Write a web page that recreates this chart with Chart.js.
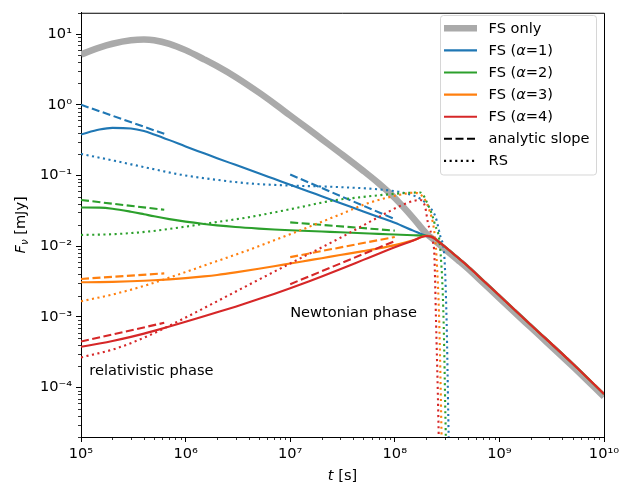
<!DOCTYPE html>
<html>
<head>
<meta charset="utf-8">
<script src="https://cdn.jsdelivr.net/npm/chart.js@4.4.1/dist/chart.umd.min.js"></script>
<style>
  html, body { margin: 0; padding: 0; background: #fff; }
  #wrap { width: 632px; height: 483px; }
</style>
</head>
<body>
<div id="wrap"><canvas id="lc" width="632" height="483"></canvas></div>
<script>
// light curves: t in s, flux in mJy
const tFS = [1e5, 1.5e5, 2e5, 3e5, 4e5, 5e5, 7e5, 1e6, 1.5e6, 2e6, 3e6, 5e6, 7e6, 1e7, 1.5e7, 2e7, 3e7, 5e7, 7e7, 1e8, 1.5e8, 2e8,
             2.3e8, 2.6e8, 3e8, 4e8, 5e8, 7e8, 1e9, 2e9, 5e9, 1e10];
const fsOnly = [5.14, 6.44, 7.29, 8.15, 8.36, 8.18, 7.28, 5.92, 4.39, 3.51, 2.47, 1.493, 1.045, 0.705, 0.451, 0.327, 0.208, 0.1161, 0.0774, 0.0479, 0.0250, 0.01514,
                0.01274, 0.01091, 0.00912, 0.00638, 0.00481, 0.00302, 0.00184, 0.000708, 0.000201, 0.0000741];
const fsA1 = [0.380, 0.446, 0.471, 0.461, 0.424, 0.380, 0.316, 0.257, 0.2056, 0.1754, 0.1413, 0.1076, 0.0897, 0.0740, 0.0594, 0.0509, 0.0409, 0.0310, 0.0259, 0.0214, 0.0166, 0.01396,
              0.0134, 0.0117, 0.0099, 0.0069, 0.0052, 0.00327, 0.0020, 0.00077, 0.000219, 0.000081];
const fsA2 = [0.0352, 0.03505, 0.03386, 0.03072, 0.02826, 0.02642, 0.02413, 0.02223, 0.02059, 0.01966, 0.01865, 0.01772, 0.01722, 0.01677, 0.01637, 0.01609, 0.0157, 0.01523, 0.01493, 0.01461, 0.01426, 0.01403,
              0.0134, 0.0117, 0.0099, 0.0069, 0.0052, 0.00327, 0.0020, 0.00077, 0.000219, 0.000081];
const fsA3 = [0.003083, 0.003105, 0.00313, 0.003184, 0.003238, 0.00329, 0.003392, 0.00353, 0.003736, 0.003918, 0.004258, 0.00479, 0.0052, 0.005689, 0.006295, 0.006764, 0.007484, 0.008506, 0.009297, 0.010347, 0.012075, 0.013964,
              0.0134, 0.0117, 0.0099, 0.0069, 0.0052, 0.00327, 0.0020, 0.00077, 0.000219, 0.000081];
const fsA4 = [0.000377, 0.0004194, 0.0004557, 0.000521, 0.0005796, 0.0006339, 0.0007299, 0.000851, 0.001017, 0.001158, 0.001395, 0.001783, 0.00211, 0.002541, 0.003166, 0.003719, 0.004708, 0.006397, 0.007826, 0.009627, 0.012029, 0.013891,
              0.0134, 0.0117, 0.0099, 0.0069, 0.0052, 0.00327, 0.0020, 0.00077, 0.000219, 0.000081];

// analytic slopes (relativistic / Newtonian)
const tEarly = [1e5, 6.25e5];
const tLate = [1e7, 1e8];
const slopeA1Early = [1.0, 0.388];
const slopeA1Late = [0.103, 0.0241];
const slopeA2Early = [0.045, 0.0327];
const slopeA2Late = [0.0217, 0.0166];
const slopeA3Early = [0.00344, 0.00412];
const slopeA3Late = [0.0070, 0.0135];
const slopeA4Early = [0.000448, 0.000824];
const slopeA4Late = [0.0029, 0.0118];

// reverse shock
const tRS1 = [1e5, 2.1e5, 4.4e5, 9e5, 1.9e6, 4.2e6, 1e7, 3e7, 7.2e7, 1.2e8, 1.75e8, 2.1e8, 2.45e8, 2.75e8, 2.97e8, 3.13e8, 3.25e8, 3.4e8];
const rsA1 = [0.2016, 0.161, 0.1273, 0.1026, 0.0874, 0.0768, 0.0720, 0.0684, 0.0633, 0.0570, 0.0470, 0.037, 0.026, 0.013, 0.0074, 0.00084, 0.000036, 0.000001];
const tRS2 = [1e5, 2.1e5, 4.4e5, 9e5, 1.9e6, 3.9e6, 1e7, 2.7e7, 4.3e7, 9e7, 1.4e8, 1.75e8, 2.1e8, 2.4e8, 2.75e8, 2.93e8, 3.05e8, 3.2e8];
const rsA2 = [0.0144, 0.0148, 0.0161, 0.0185, 0.0217, 0.0255, 0.0333, 0.0447, 0.0485, 0.0543, 0.0570, 0.0573, 0.037, 0.021, 0.0074, 0.00084, 0.000036, 0.000001];
const tRS3 = [1e5, 2.1e5, 4.4e5, 9e5, 1.9e6, 3.9e6, 1e7, 3e7, 5.4e7, 1.12e8, 1.5e8, 1.85e8, 2.1e8, 2.4e8, 2.5e8, 2.66e8, 2.78e8, 2.9e8];
const rsA3 = [0.00166, 0.00211, 0.00286, 0.00408, 0.0060, 0.0087, 0.01476, 0.0281, 0.040, 0.0534, 0.057, 0.050, 0.035, 0.015, 0.0074, 0.00084, 0.000036, 0.000001];
const tRS4 = [1e5, 2.1e5, 4.4e5, 9e5, 1.9e6, 4.2e6, 1e7, 3e7, 7.2e7, 1.2e8, 1.75e8, 1.95e8, 2.07e8, 2.32e8, 2.39e8, 2.48e8, 2.61e8, 2.72e8];
const rsA4 = [0.000267, 0.000352, 0.00054, 0.000904, 0.001596, 0.002938, 0.005689, 0.01309, 0.02636, 0.03864, 0.045, 0.036, 0.0217, 0.0114, 0.0074, 0.00084, 0.000036, 0.000001];

const xTicks = [1e5, 1e6, 1e7, 1e8, 1e9, 1e10];
const yTicks = [1e-4, 1e-3, 1e-2, 1e-1, 1e0, 1e1];
const legendLabels = ['FS only', 'FS (α=1)', 'FS (α=2)', 'FS (α=3)', 'FS (α=4)', 'analytic slope', 'RS'];

const GRAY = '#aaaaaa';
const COLORS = ['#1f77b4', '#2ca02c', '#ff7f0e', '#d62728'];
const FONT = 'DejaVu Sans';
const FS = 14.6;
const LW = 2.1;
const DASH = [8, 3.5];
const DOT = [2.1, 3.5];

function pts(ts, vs) {
    return ts.map((t, i) => ({ x: t, y: vs[i] }));
}

function series(ts, vs, color, width, dash, smooth) {
    return {
        data: pts(ts, vs),
        borderColor: color,
        borderWidth: width,
        borderDash: dash,
        pointRadius: 0,
        fill: false,
        clip: 0,
        tension: 0,
        cubicInterpolationMode: smooth ? 'monotone' : 'default'
    };
}

const fsSets = [fsA1, fsA2, fsA3, fsA4];
const earlySets = [slopeA1Early, slopeA2Early, slopeA3Early, slopeA4Early];
const lateSets = [slopeA1Late, slopeA2Late, slopeA3Late, slopeA4Late];
const rsT = [tRS1, tRS2, tRS3, tRS4];
const rsSets = [rsA1, rsA2, rsA3, rsA4];

const datasets = [series(tFS, fsOnly, GRAY, 6.5, [], true)];
for (let i = 0; i < 4; i++) {
    datasets.push(series(tFS, fsSets[i], COLORS[i], LW, [], true));
    datasets.push(series(tEarly, earlySets[i], COLORS[i], LW, DASH, false));
    datasets.push(series(tLate, lateSets[i], COLORS[i], LW, DASH, false));
    datasets.push(series(rsT[i], rsSets[i], COLORS[i], LW, DOT, true));
}
// later datasets on top, like matplotlib
datasets.forEach((d, i) => { d.order = datasets.length - i; });

const SUP = { '0': '⁰', '1': '¹', '2': '²', '3': '³', '4': '⁴', '5': '⁵', '6': '⁶', '7': '⁷', '8': '⁸', '9': '⁹', '-': '⁻' };
function pow10Label(v) {
    const e = Math.round(Math.log10(v));
    return '10' + String(e).split('').map(c => SUP[c]).join('');
}

function font(size, italic) {
    return (italic ? 'italic ' : '') + size + 'px "' + FONT + '"';
}

// draw text made of runs (some italic / subscript)
function drawRuns(ctx, runs, x, y, align) {
    let total = 0;
    runs.forEach(r => {
        ctx.font = font(r.size || FS, r.italic);
        r.w = ctx.measureText(r.text).width;
        total += r.w;
    });
    let cx = align === 'center' ? x - total / 2 : x;
    runs.forEach(r => {
        ctx.font = font(r.size || FS, r.italic);
        ctx.fillText(r.text, cx, y + (r.dy || 0));
        cx += r.w;
    });
}

function alphaRuns(label) {
    const parts = label.split('α');
    if (parts.length === 1) return [{ text: label }];
    return [{ text: parts[0] }, { text: 'α', italic: true }, { text: parts[1] }];
}

const extras = {
    id: 'extras',
    afterDraw(chart) {
        const ctx = chart.ctx;
        const a = chart.chartArea;
        const xs = chart.scales.x, ys = chart.scales.y;
        ctx.save();

        // top and right spines
        ctx.strokeStyle = '#000';
        ctx.lineWidth = 1;
        ctx.beginPath();
        ctx.moveTo(a.left, a.top + 0.5);
        ctx.lineTo(a.right + 0.5, a.top + 0.5);
        ctx.lineTo(a.right + 0.5, a.bottom);
        ctx.stroke();

        // minor ticks
        ctx.lineWidth = 0.8;
        ctx.beginPath();
        for (let d = 5; d < 10; d++) {
            for (let k = 2; k < 10; k++) {
                const px = Math.round(xs.getPixelForValue(k * Math.pow(10, d))) + 0.5;
                ctx.moveTo(px, a.bottom);
                ctx.lineTo(px, a.bottom + 3);
            }
        }
        for (let d = -5; d < 2; d++) {
            for (let k = 2; k < 10; k++) {
                const v = k * Math.pow(10, d);
                if (v < ys.min || v > ys.max) continue;
                const py = Math.round(ys.getPixelForValue(v)) + 0.5;
                ctx.moveTo(a.left - 3, py);
                ctx.lineTo(a.left, py);
            }
        }
        ctx.stroke();

        // annotations
        ctx.fillStyle = '#000';
        ctx.textBaseline = 'alphabetic';
        ctx.textAlign = 'left';
        ctx.font = font(FS, false);
        ctx.fillText('relativistic phase', xs.getPixelForValue(1.2e5), ys.getPixelForValue(1.5e-4));
        ctx.fillText('Newtonian phase', xs.getPixelForValue(1e7), ys.getPixelForValue(1e-3));

        // axis labels
        drawRuns(ctx, [{ text: 't', italic: true }, { text: ' [s]' }], (a.left + a.right) / 2, 480, 'center');
        ctx.save();
        ctx.translate(25, (a.top + a.bottom) / 2);
        ctx.rotate(-Math.PI / 2);
        drawRuns(ctx, [{ text: 'F', italic: true }, { text: 'ν', italic: true, size: 10.2, dy: 2.5 }, { text: ' [mJy]' }], 0, 0, 'center');
        ctx.restore();

        // legend
        const bx = 440.5, by = 15.5, bw = 156, bh = 159.5;
        ctx.fillStyle = 'rgba(255,255,255,0.8)';
        ctx.strokeStyle = 'rgba(204,204,204,0.8)';
        ctx.lineWidth = 1;
        ctx.beginPath();
        ctx.roundRect(bx, by, bw, bh, 3);
        ctx.fill();
        ctx.stroke();
        const handleColors = [GRAY, ...COLORS, '#000', '#000'];
        const handleDash = [[], [], [], [], [], DASH, DOT];
        legendLabels.forEach((lab, i) => {
            const y = 28.3 + i * 22.1;
            ctx.strokeStyle = handleColors[i];
            ctx.lineWidth = i === 0 ? 6.5 : LW;
            ctx.setLineDash(handleDash[i]);
            ctx.beginPath();
            ctx.moveTo(444, y);
            ctx.lineTo(477, y);
            ctx.stroke();
            ctx.setLineDash([]);
            ctx.fillStyle = '#000';
            ctx.textBaseline = 'middle';
            drawRuns(ctx, alphaRuns(lab), 488.5, y + 0.5, 'left');
        });
        ctx.restore();
    }
};

const tickFont = { family: FONT, size: FS };

new Chart(document.getElementById('lc').getContext('2d'), {
    type: 'line',
    data: { datasets: datasets },
    options: {
        responsive: false,
        animation: false,
        devicePixelRatio: 1,
        events: [],
        layout: { padding: { left: 0, right: 28, top: 7, bottom: 0 } },
        plugins: {
            legend: { display: false },
            tooltip: { enabled: false }
        },
        scales: {
            x: {
                type: 'logarithmic',
                min: 1e5,
                max: 1e10,
                afterBuildTicks: s => { s.ticks = xTicks.map(v => ({ value: v })); },
                afterFit: s => { s.height = 46; },
                ticks: {
                    callback: v => pow10Label(v),
                    autoSkip: false,
                    maxRotation: 0,
                    color: '#000',
                    font: tickFont,
                    padding: 3
                },
                grid: { drawOnChartArea: false, tickLength: 5, tickColor: '#000', tickWidth: 1 },
                border: { color: '#000', width: 1 }
            },
            y: {
                type: 'logarithmic',
                min: 2e-5,
                max: 20,
                afterBuildTicks: s => { s.ticks = yTicks.map(v => ({ value: v })); },
                afterFit: s => { s.width = 81; },
                ticks: {
                    callback: v => pow10Label(v),
                    autoSkip: false,
                    color: '#000',
                    font: tickFont,
                    padding: 4
                },
                grid: { drawOnChartArea: false, tickLength: 5, tickColor: '#000', tickWidth: 1 },
                border: { color: '#000', width: 1 }
            }
        }
    },
    plugins: [extras]
});
</script>
</body>
</html>
